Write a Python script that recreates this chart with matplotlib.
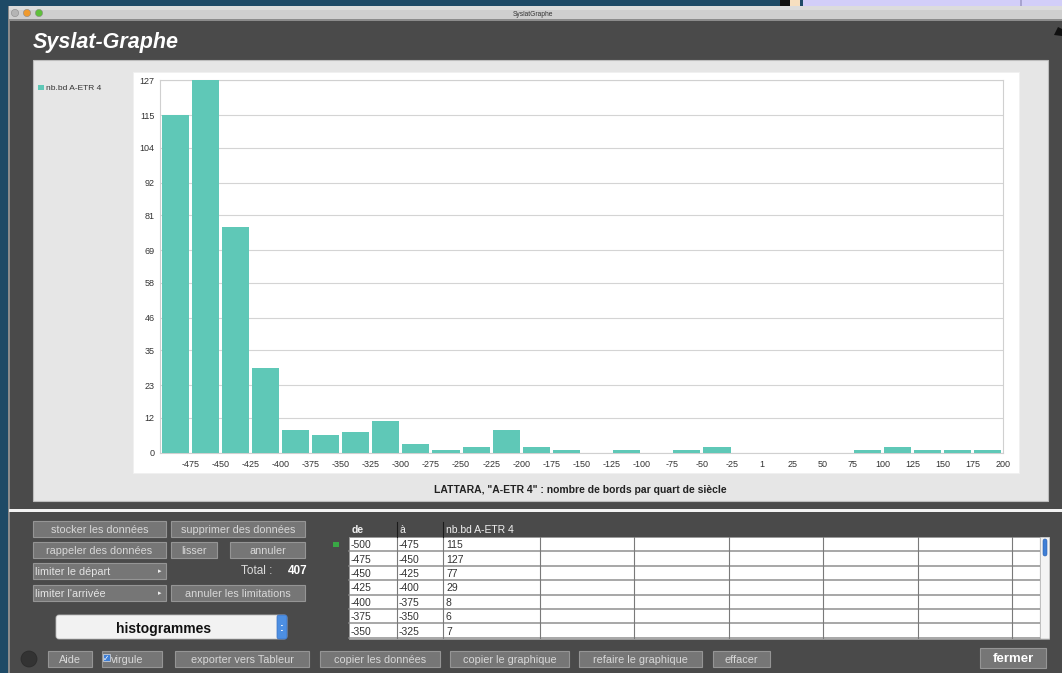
import numpy as np
import matplotlib
matplotlib.use("Agg")
import matplotlib.pyplot as plt
from matplotlib.patches import Rectangle, FancyBboxPatch, Circle, Polygon

plt.rcParams['font.family'] = ['Liberation Sans', 'DejaVu Sans']

# ---- data (quarter-century bins) ----
bin_start = [-500, -475, -450, -425, -400, -375, -350, -325, -300, -275, -250, -225, -200, -175,
             -150, -125, -100, -75, -50, -25, 1, 25, 50, 75, 100, 125, 150, 175]
bin_end = [-475, -450, -425, -400, -375, -350, -325, -300, -275, -250, -225, -200, -175, -150,
           -125, -100, -75, -50, -25, 1, 25, 50, 75, 100, 125, 150, 175, 200]
counts = [115, 127, 77, 29, 8, 6, 7, 11, 3, 1, 2, 8, 2, 1,
          0, 1, 0, 1, 2, 0, 0, 0, 0, 1, 2, 1, 1, 1]
y_ticks = [0, 12, 23, 35, 46, 58, 69, 81, 92, 104, 115, 127]
series_name = "nb.bd A-ETR 4"
caption = 'LATTARA, "A-ETR 4" : nombre de bords par quart de siècle'
total = sum(counts)

BAR = "#5fc8b7"
WIN = "#4a4a4a"
W, H = 1062, 673

fig = plt.figure(figsize=(W / 100, H / 100), dpi=100)
fig.patch.set_facecolor("#1e4a66")

# background axes in pixel coords (y down)
bg = fig.add_axes([0, 0, 1, 1])
bg.set_xlim(0, W); bg.set_ylim(H, 0); bg.axis("off")


def rect(x0, y0, x1, y1, fc, ec="none", lw=0, z=1):
    bg.add_patch(Rectangle((x0, y0), x1 - x0, y1 - y0, fc=fc, ec=ec, lw=lw, zorder=z))


def txt(x, y, s, size=7.8, color="#d8d8d8", ha="center", weight="normal", z=5, **kw):
    bg.text(x, y, s, fontsize=size, color=color, ha=ha, va="center_baseline",
            weight=weight, zorder=z, **kw)


def button(x0, y0, x1, y1, label, size=7.8, ha="center", arrow=False):
    rect(x0, y0, x1, y1, "#767676", ec="#959595", lw=0.8, z=3)
    if ha == "center":
        txt((x0 + x1) / 2, (y0 + y1) / 2, label, size=size)
    else:
        txt(x0 + 2, (y0 + y1) / 2, label, size=size, ha="left", color="#e4e4e4")
    if arrow:
        txt(x1 - 6, (y0 + y1) / 2, "▸", size=5, color="#f0f0f0", family="DejaVu Sans")


# desktop bits at top
rect(780, 0, 790, 6, "#111111")
rect(790, 0, 800, 6, "#f6dfc0")
rect(803, 0, W, 6, "#d2cef8")
rect(1020, 0, 1022, 6, "#a8a4d0")

# window
rect(9, 20, W, H, WIN)
rect(8, 6, 10, H, "#8a8a8a")
rect(9, 6, W, 20, "#cfcfcf")
rect(9, 6, W, 10, "#dcdcdc")
rect(9, 19, W, 20.5, "#8c8c8c")
for cx, col in [(15, "#b4b4b4"), (27, "#ef9a2e"), (39, "#5fbf3c")]:
    bg.add_patch(Circle((cx, 13), 3.6, fc=col, ec="#8a8a8a", lw=0.4, zorder=3))
txt(533, 13, "SyslatGraphe", size=4.8, color="#333333")
txt(33, 40, "Syslat-Graphe", size=15.5, color="white", ha="left", weight="bold", style="italic")
bg.add_patch(Polygon([[1054, 35], [1058, 27], [1062, 29], [1062, 36]], closed=True,
                     fc="#111111", zorder=3))

# chart panel
rect(33, 60, 1048, 501, "#e6e6e6", ec="#bdbdbd", lw=0.8, z=2)
rect(133, 72, 1019, 473, "white", ec="#f0f0f0", lw=0.6, z=2)

# legend
rect(38, 84.5, 43.5, 90, BAR, z=3)
txt(45.5, 87.5, series_name, size=6, color="#333333", ha="left")

# caption
txt(580, 489, caption, size=7.5, color="#222222", weight="bold")

# separator
rect(9, 509, W, 512, "#f2f2f2", z=2)

# buttons
button(33, 521, 166, 537, "stocker les données")
button(171, 521, 305, 537, "supprimer des données")
button(33, 542, 166, 558, "rappeler des données")
button(171, 542, 217, 558, "lisser")
button(230, 542, 305, 558, "annuler")
button(33, 563, 166, 579, "limiter le départ", ha="left", arrow=True)
button(33, 585, 166, 601, "limiter l'arrivée", ha="left", arrow=True)
button(171, 585, 305, 601, "annuler les limitations")
txt(241, 569.5, "Total :", size=8.5, color="#dcdcdc", ha="left")
txt(288, 569.5, str(total), size=8.5, color="white", ha="left", weight="bold")

# popup
bg.add_patch(FancyBboxPatch((56, 615), 231, 24, boxstyle="round,pad=0,rounding_size=3",
                            fc="#f2f2f2", ec="#bcbcbc", lw=0.6, zorder=3))
bg.add_patch(FancyBboxPatch((277, 615), 10, 24, boxstyle="round,pad=0,rounding_size=2",
                            fc="#4d8fe2", ec="#3a70c0", lw=0.5, zorder=4))
txt(282, 627, ":", size=8, color="white", weight="bold")
txt(164, 627.5, "histogrammes", size=10, color="#111111", weight="bold")

# bottom row
bg.add_patch(Circle((29, 659), 8, fc="#333333", ec="#2a2a2a", lw=0.5, zorder=3))
button(48, 651, 92, 667, "Aide")
button(102, 651, 162, 667, "")
rect(103, 654, 110, 661, "#3f7fd6", ec="#dddddd", lw=0.5, z=4)
txt(106.5, 657.5, "✓", size=5.5, color="white", family="DejaVu Sans")
txt(111, 659, "virgule", size=7.8, ha="left")
button(175, 651, 309, 667, "exporter vers Tableur")
button(320, 651, 440, 667, "copier les données")
button(450, 651, 569, 667, "copier le graphique")
button(579, 651, 702, 667, "refaire le graphique")
button(713, 651, 770, 667, "effacer")
rect(980, 648, 1046, 668, "#767676", ec="#959595", lw=0.8, z=3)
txt(1013, 658, "fermer", size=9.5, color="white", weight="bold")

# data table
tx0, tx1, ty0, rh = 349, 1049, 537, 14.4
col_x = [349, 397, 443, 540, 634, 729, 823, 918, 1012, 1040]
nrows = 7
rect(tx0, ty0, tx1, ty0 + rh * nrows + 1, "white", ec="#9a9a9a", lw=0.6, z=2)
for k in range(1, nrows + 1):
    bg.plot([tx0, 1040], [ty0 + rh * k, ty0 + rh * k], color="#8f8f8f", lw=1.1, zorder=3)
for cx in col_x[1:]:
    bg.plot([cx, cx], [ty0, ty0 + rh * nrows], color="#7a7a7a", lw=0.8, zorder=3)
for cx in col_x[1:3]:
    bg.plot([cx, cx], [522, ty0], color="#1a1a1a", lw=0.8, zorder=3)
txt(352, 529, "de", size=7.5, color="#f0f0f0", ha="left", weight="bold")
txt(400, 529, "à", size=7.5, color="#f0f0f0", ha="left")
txt(446, 529, series_name, size=7.5, color="#f0f0f0", ha="left")
for i in range(nrows):
    yy = ty0 + rh * i + rh / 2
    txt(351, yy, str(bin_start[i]), size=7.5, color="#333333", ha="left")
    txt(399, yy, str(bin_end[i]), size=7.5, color="#333333", ha="left")
    txt(446, yy, str(counts[i]), size=7.5, color="#333333", ha="left")
rect(1040, ty0, 1049, ty0 + rh * nrows, "#f4f4f4", ec="#c8c8c8", lw=0.4, z=3)
bg.add_patch(FancyBboxPatch((1043, 539), 4, 17, boxstyle="round,pad=0,rounding_size=2",
                            fc="#3f7fd6", ec="#2d5fae", lw=0.4, zorder=4))
bg.add_patch(Rectangle((333, 542), 6, 5, fc="#39a845", zorder=4))

# ---- the histogram ----
ax = fig.add_axes([160 / W, 1 - 453 / H, (1003 - 160) / W, (453 - 80) / H])
ax.set_facecolor("white")
pos = np.arange(len(counts))
ax.bar(pos + 0.05, counts, width=0.9, align="edge", color=BAR, zorder=3)
ax.set_xlim(0, len(counts))
ax.set_ylim(0, y_ticks[-1])
ax.set_yticks(y_ticks)
ax.set_yticklabels([str(v) for v in y_ticks])
ax.set_xticks(pos + 1)
ax.set_xticklabels([str(v) for v in bin_end])
ax.grid(axis="y", color="#d4d4d4", lw=0.8, zorder=0)
for s in ax.spines.values():
    s.set_color("#d0d0d0"); s.set_linewidth(0.8)
ax.tick_params(axis="y", length=0, pad=4, labelsize=6.5, labelcolor="#333333")
ax.tick_params(axis="x", length=0, pad=5, labelsize=6.5, labelcolor="#333333")

fig.savefig("out.png", dpi=100, facecolor=fig.get_facecolor())
